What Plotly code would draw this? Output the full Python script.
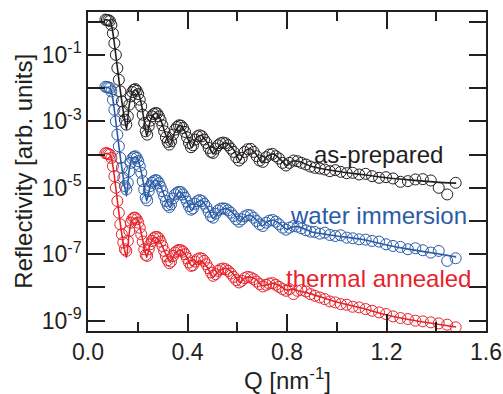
import plotly.graph_objects as go

# ---------------- data (log10 of reflectivity) ----------------
q_data = [0.070, 0.076, 0.082, 0.088, 0.094, 0.100, 0.106, 0.112, 0.118, 0.124, 0.130, 0.136, 0.142, 0.148, 0.154,
          0.160, 0.166, 0.172, 0.178, 0.184, 0.190, 0.196, 0.202, 0.208, 0.214, 0.220, 0.226, 0.232, 0.238,
          0.244, 0.250, 0.257, 0.264, 0.271, 0.278, 0.285, 0.292, 0.299, 0.306, 0.313, 0.320, 0.327, 0.334,
          0.342, 0.350, 0.358, 0.366, 0.374, 0.382, 0.390, 0.398, 0.406, 0.414, 0.422,
          0.431, 0.440, 0.449, 0.458, 0.467, 0.476, 0.485, 0.494, 0.503,
          0.513, 0.523, 0.533, 0.543, 0.553, 0.563, 0.574, 0.585, 0.596, 0.607, 0.618,
          0.630, 0.642, 0.654, 0.666, 0.678, 0.690, 0.703, 0.716, 0.729, 0.742, 0.755, 0.768, 0.782, 0.796, 0.810,
          0.826, 0.842, 0.858, 0.876, 0.894, 0.912, 0.932, 0.952, 0.972, 0.994, 1.016, 1.040, 1.064, 1.090,
          1.116, 1.142, 1.170, 1.198, 1.226, 1.256, 1.286, 1.316, 1.346, 1.378, 1.410, 1.444, 1.478]

as_prepared_log = [0.06, 0.05, 0.04, 0.02, -0.1, -0.35, -0.65, -1.0, -1.4, -1.75, -2.1, -2.4, -2.7, -2.95, -3.1,
                   -2.85, -2.5, -2.25, -2.12, -2.05, -2.03, -2.08, -2.18, -2.35, -2.55, -2.8, -3.05, -3.3, -3.4,
                   -3.15, -2.98, -2.85, -2.78, -2.75, -2.76, -2.85, -2.97, -3.12, -3.3, -3.48, -3.62, -3.7, -3.6,
                   -3.4, -3.25, -3.17, -3.12, -3.13, -3.2, -3.32, -3.48, -3.65, -3.78, -3.72,
                   -3.55, -3.45, -3.42, -3.45, -3.55, -3.65, -3.8, -3.92, -3.95,
                   -3.82, -3.72, -3.66, -3.64, -3.66, -3.72, -3.82, -3.92, -4.08, -4.18, -4.1,
                   -3.92, -3.84, -3.83, -3.92, -4.05, -4.18, -4.22, -4.08, -4.0, -3.98, -4.05, -4.12, -4.25, -4.33, -4.25,
                   -4.18, -4.2, -4.25, -4.3, -4.36, -4.4, -4.42, -4.45, -4.5, -4.47, -4.52, -4.56, -4.55, -4.6,
                   -4.58, -4.65, -4.7, -4.68, -4.72, -4.82, -4.8, -4.75, -4.74, -4.78, -5.0, -5.2, -4.85]

water_log = [-1.96, -1.97, -1.98, -2.0, -2.1, -2.35, -2.65, -3.0, -3.4, -3.75, -4.1, -4.4, -4.7, -4.95, -5.05,
             -4.85, -4.5, -4.25, -4.12, -4.07, -4.05, -4.1, -4.2, -4.35, -4.55, -4.8, -5.05, -5.3, -5.38,
             -5.1, -4.95, -4.85, -4.8, -4.77, -4.78, -4.86, -4.97, -5.1, -5.25, -5.4, -5.52, -5.58, -5.5,
             -5.32, -5.2, -5.15, -5.12, -5.13, -5.2, -5.3, -5.42, -5.55, -5.66, -5.62,
             -5.48, -5.4, -5.37, -5.4, -5.48, -5.58, -5.72, -5.85, -5.9,
             -5.78, -5.68, -5.63, -5.62, -5.63, -5.68, -5.75, -5.85, -5.95, -6.02, -5.95,
             -5.86, -5.82, -5.83, -5.9, -6.0, -6.1, -6.15, -6.05, -5.99, -5.97, -6.02, -6.1, -6.2, -6.26, -6.2,
             -6.15, -6.17, -6.22, -6.28, -6.32, -6.33, -6.38, -6.35, -6.42, -6.45, -6.43, -6.5, -6.52, -6.55,
             -6.56, -6.6, -6.62, -6.7, -6.75, -6.78, -6.85, -6.82, -6.88, -6.95, -6.9, -7.2, -7.12]

annealed_log = [-3.96, -3.96, -3.98, -4.0, -4.1, -4.35, -4.65, -5.0, -5.4, -5.75, -6.1, -6.4, -6.65, -6.85, -6.9,
                -6.6, -6.3, -6.05, -5.95, -5.9, -5.9, -5.95, -6.05, -6.2, -6.4, -6.62, -6.85, -7.02, -7.05,
                -6.85, -6.7, -6.6, -6.52, -6.48, -6.48, -6.52, -6.62, -6.75, -6.9, -7.05, -7.18, -7.27, -7.22,
                -7.05, -6.95, -6.9, -6.87, -6.88, -6.92, -7.0, -7.12, -7.25, -7.35, -7.33,
                -7.22, -7.15, -7.12, -7.13, -7.2, -7.3, -7.42, -7.55, -7.65,
                -7.6, -7.5, -7.45, -7.43, -7.45, -7.5, -7.58, -7.68, -7.78, -7.85, -7.8,
                -7.72, -7.68, -7.7, -7.75, -7.82, -7.9, -7.97, -7.92, -7.88, -7.87, -7.92, -7.98, -8.05, -8.1, -8.05,
                -8.2, -8.1, -8.08, -8.12, -8.2, -8.25, -8.3, -8.35, -8.42, -8.45, -8.5, -8.52, -8.58, -8.6,
                -8.65, -8.7, -8.75, -8.8, -8.87, -8.92, -8.95, -9.0, -9.02, -9.05, -9.08, -9.12, -9.2]

q_fit = [0.065, 0.08, 0.09, 0.097, 0.105, 0.115, 0.125, 0.135, 0.145, 0.155, 0.165, 0.175, 0.19, 0.205, 0.215,
         0.225, 0.236, 0.25, 0.262, 0.276, 0.292, 0.31, 0.33, 0.35, 0.37, 0.39, 0.417, 0.435, 0.455, 0.48,
         0.503, 0.53, 0.557, 0.585, 0.611, 0.63, 0.65, 0.675, 0.70, 0.72, 0.745, 0.77, 0.80, 0.82, 0.845,
         0.9, 1.0, 1.1, 1.2, 1.3, 1.4, 1.48]

as_prepared_fit_log = [0.05, 0.05, 0.0, -0.2, -0.6, -1.2, -1.8, -2.35, -2.85, -3.25, -2.55, -2.2, -2.05, -2.2, -2.5,
                       -2.95, -3.45, -3.0, -2.8, -2.75, -2.95, -3.35, -3.72, -3.3, -3.12, -3.3, -3.8, -3.5, -3.42, -3.65,
                       -3.98, -3.72, -3.65, -3.85, -4.18, -3.9, -3.82, -3.98, -4.25, -4.05, -3.98, -4.12, -4.33, -4.2, -4.2,
                       -4.36, -4.5, -4.6, -4.7, -4.77, -4.83, -4.86]

water_fit_log = [-1.98, -1.98, -2.03, -2.2, -2.6, -3.2, -3.8, -4.35, -4.85, -5.25, -4.5, -4.15, -4.07, -4.25, -4.55,
                 -4.95, -5.4, -4.95, -4.8, -4.77, -4.95, -5.3, -5.6, -5.25, -5.12, -5.3, -5.68, -5.45, -5.38, -5.6,
                 -5.92, -5.68, -5.62, -5.78, -6.02, -5.88, -5.82, -5.95, -6.15, -6.02, -5.97, -6.08, -6.25, -6.18, -6.17,
                 -6.33, -6.45, -6.55, -6.72, -6.86, -6.98, -7.08]

annealed_fit_log = [-3.97, -3.97, -4.02, -4.2, -4.6, -5.2, -5.8, -6.35, -6.8, -7.1, -6.4, -6.0, -5.9, -6.05, -6.4,
                    -6.75, -7.1, -6.7, -6.52, -6.5, -6.65, -6.95, -7.25, -6.98, -6.87, -7.0, -7.35, -7.25, -7.2, -7.4,
                    -7.68, -7.48, -7.42, -7.6, -7.85, -7.72, -7.68, -7.75, -7.95, -7.92, -7.87, -7.95, -8.08, -8.05, -8.1,
                    -8.2, -8.44, -8.62, -8.83, -8.98, -9.1, -9.19]

labels = ["as-prepared", "water immersion", "thermal annealed"]
colors = ["#231f20", "#2a5ba8", "#e6232b"]
label_q = [1.166, 1.166, 1.166]
label_log = [-4.0, -5.82, -7.72]

y_tick_exp = [0, -1, -2, -3, -4, -5, -6, -7, -8, -9]
x_major = [0.0, 0.4, 0.8, 1.2, 1.6]
x_minor = [0.2, 0.6, 1.0, 1.4]

FONT = "Liberation Sans, Arial, sans-serif"

# ---------------- figure ----------------
fig = go.Figure()
series = [(as_prepared_log, as_prepared_fit_log), (water_log, water_fit_log), (annealed_log, annealed_fit_log)]
for (dlog, flog), col, name in zip(series, colors, labels):
    fig.add_trace(go.Scatter(
        x=q_data, y=[10 ** v for v in dlog], mode="markers", name=name,
        marker=dict(symbol="circle-open", size=11, color=col, line=dict(width=1, color=col)),
        showlegend=False, hoverinfo="skip"))
    fig.add_trace(go.Scatter(
        x=q_fit, y=[10 ** v for v in flog], mode="lines", name=name + " fit",
        line=dict(color=col, width=1.6, shape="spline", smoothing=0.5),
        showlegend=False, hoverinfo="skip"))

for name, col, q, lg in zip(labels, colors, label_q, label_log):
    fig.add_annotation(x=q, y=lg, xref="x", yref="y", text=name, showarrow=False,
                       xanchor="center", yanchor="middle",
                       font=dict(size=24, color=col, family=FONT))

axis_col = "#231f20"
fig.update_xaxes(range=[0, 1.6], tickvals=x_major, ticktext=["%.1f" % v for v in x_major],
                 ticks="inside", ticklen=17, tickwidth=1.5, tickcolor=axis_col,
                 minor=dict(tickvals=x_minor, ticks="inside", ticklen=9, tickwidth=1.5, tickcolor=axis_col),
                 showline=True, linewidth=1.6, linecolor=axis_col, mirror="ticks",
                 showgrid=False, zeroline=False, automargin=False,
                 tickfont=dict(size=23, color=axis_col, family=FONT))
fig.update_yaxes(type="log", range=[-9.31, 0.29],
                 tickvals=[10.0 ** e for e in y_tick_exp],
                 ticktext=[("10<sup>%d</sup>" % e) if e % 2 else "" for e in y_tick_exp],
                 ticks="inside", ticklen=17, tickwidth=1.5, tickcolor=axis_col,
                 showline=True, linewidth=1.6, linecolor=axis_col, mirror="ticks",
                 showgrid=False, zeroline=False, automargin=False,
                 tickfont=dict(size=23, color=axis_col, family=FONT))

fig.add_annotation(x=-0.163, y=0.5, xref="paper", yref="paper", text="Reflectivity [arb. units]",
                   textangle=-90, showarrow=False, xanchor="center", yanchor="middle",
                   font=dict(size=24, color=axis_col, family=FONT))
fig.add_annotation(x=0.5, y=-0.152, xref="paper", yref="paper", text="Q [nm<sup>-1</sup>]",
                   showarrow=False, xanchor="center", yanchor="middle",
                   font=dict(size=24, color=axis_col, family=FONT))

fig.update_layout(width=503, height=394, margin=dict(l=88, r=17, t=12, b=63),
                  paper_bgcolor="white", plot_bgcolor="white")

fig.write_html("out.html", config={"displayModeBar": False},
               post_script="document.body.style.margin='0';document.body.style.padding='0';"
                           "document.body.style.overflow='hidden';")
